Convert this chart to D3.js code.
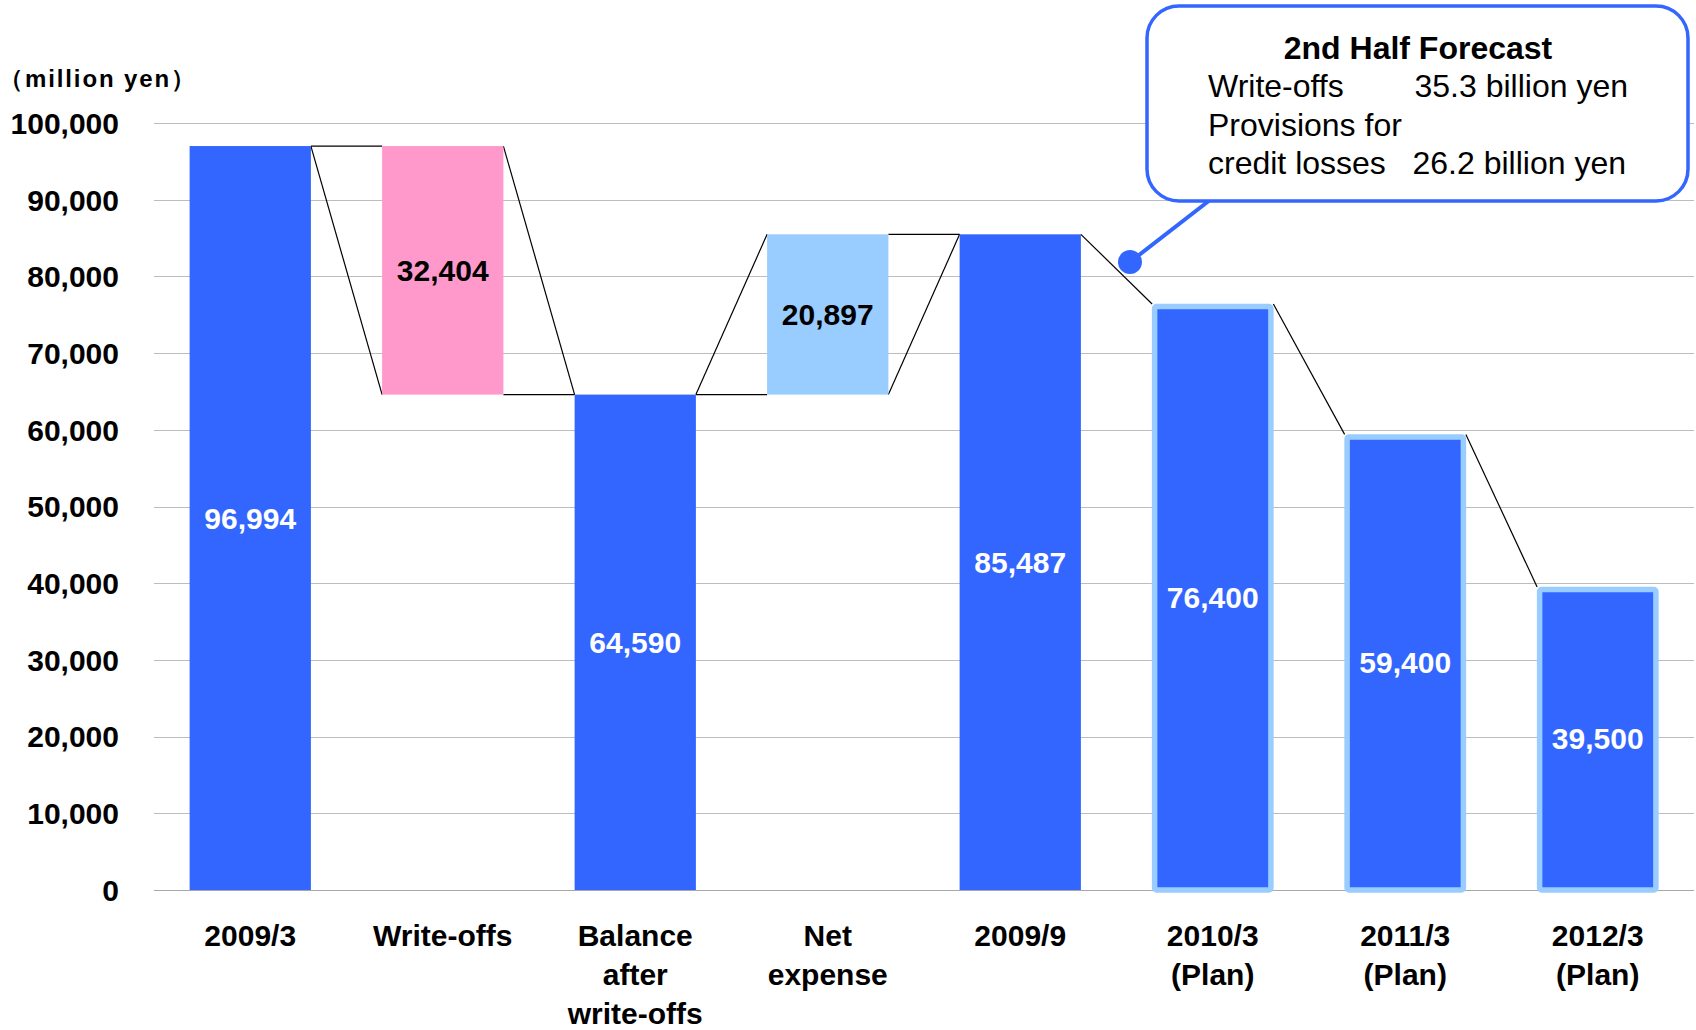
<!DOCTYPE html>
<html>
<head>
<meta charset="utf-8">
<script src="https://cdn.jsdelivr.net/npm/d3@7"></script>
<style>
  html, body { margin: 0; padding: 0; background: #ffffff; }
  svg { display: block; }
  text { font-family: "Liberation Sans", Arial, sans-serif; }
</style>
</head>
<body>
<svg id="chart" width="1696" height="1030"></svg>
<script>
// ---- data ----
const categories = [
  ["2009/3"], ["Write-offs"], ["Balance", "after", "write-offs"], ["Net", "expense"],
  ["2009/9"], ["2010/3", "(Plan)"], ["2011/3", "(Plan)"], ["2012/3", "(Plan)"]
];
const barValues = [96994, -32404, 64590, 20897, 85487, 76400, 59400, 39500];
const barKinds = ["total", "decrease", "total", "increase", "total", "plan", "plan", "plan"];
const barBases = [0, 96994, 0, 64590, 0, 0, 0, 0];
const yTicks = [0, 10000, 20000, 30000, 40000, 50000, 60000, 70000, 80000, 90000, 100000];
// connector lines between neighbouring bars: [left index, value at left edge, value at right edge]
const connectors = [
  [0, 96994, 96994], [0, 96994, 64590],
  [1, 96994, 64590], [1, 64590, 64590],
  [2, 64590, 64590], [2, 64590, 85487],
  [3, 85487, 85487], [3, 64590, 85487],
  [4, 85487, 76400],
  [5, 76400, 59400],
  [6, 59400, 39500]
];
const unitLabel = "（million yen）";
const calloutTitle = "2nd Half Forecast";
const calloutRows = [
  ["Write-offs", "35.3 billion yen"],
  ["Provisions for", ""],
  ["credit losses", "26.2 billion yen"]
];

// ---- styles ----
const colors = { total: "#3366ff", plan: "#3366ff", decrease: "#ff99cc", increase: "#99ccff" };
const labelColors = { total: "#ffffff", plan: "#ffffff", decrease: "#000000", increase: "#000000" };

const svg = d3.select("#chart");

const x = d3.scaleBand().domain(d3.range(categories.length))
  .range([154, 1694]).paddingInner(0.37).paddingOuter(0.185);
const y = d3.scaleLinear().domain([0, 100000]).range([890, 123]);
const fmt = d3.format(",");

// gridlines
svg.append("g").selectAll("line").data(yTicks).join("line")
  .attr("x1", 154).attr("x2", 1694)
  .attr("y1", d => Math.round(y(d)) + 0.5).attr("y2", d => Math.round(y(d)) + 0.5)
  .attr("stroke", d => d === 0 ? "#a8a8a8" : "#bdbdbd").attr("stroke-width", 1.2);

// y tick labels
svg.append("g").selectAll("text").data(yTicks).join("text")
  .attr("x", 119).attr("y", d => y(d)).attr("dy", "0.36em")
  .attr("text-anchor", "end").attr("font-size", 30).attr("font-weight", "bold")
  .attr("fill", "#000").text(d => fmt(d));

// unit label
svg.append("text").attr("x", -1).attr("y", 87)
  .attr("font-family", "'Noto Sans CJK JP', sans-serif")
  .attr("font-size", 24).attr("font-weight", 700).attr("letter-spacing", 1.9)
  .attr("fill", "#000").text(unitLabel);

// connectors
svg.append("g").selectAll("line").data(connectors).join("line")
  .attr("x1", d => x(d[0]) + x.bandwidth())
  .attr("x2", d => x(d[0] + 1))
  .attr("y1", d => y(d[1])).attr("y2", d => y(d[2]))
  .attr("stroke", "#000").attr("stroke-width", 1.2);

// bars
const bars = barValues.map((v, i) => {
  const lo = v < 0 ? barBases[i] + v : barBases[i];
  const hi = v < 0 ? barBases[i] : barBases[i] + v;
  return { i, v, lo, hi, kind: barKinds[i] };
});

svg.append("g").selectAll("rect").data(bars).join("rect")
  .attr("x", d => x(d.i) + (d.kind === "plan" ? 2.5 : 0))
  .attr("width", d => x.bandwidth() - (d.kind === "plan" ? 5 : 0))
  .attr("y", d => y(d.hi) + (d.kind === "plan" ? 2.5 : 0))
  .attr("height", d => y(d.lo) - y(d.hi) - (d.kind === "plan" ? 2.5 : 0))
  .attr("rx", d => d.kind === "plan" ? 2 : 0)
  .attr("fill", d => colors[d.kind])
  .attr("stroke", d => d.kind === "plan" ? "#99ccff" : "none")
  .attr("stroke-width", 5.5);

// value labels
svg.append("g").selectAll("text").data(bars).join("text")
  .attr("x", d => x(d.i) + x.bandwidth() / 2)
  .attr("y", d => (y(d.lo) + y(d.hi)) / 2).attr("dy", "0.36em")
  .attr("text-anchor", "middle").attr("font-size", 30).attr("font-weight", "bold")
  .attr("fill", d => labelColors[d.kind])
  .text(d => fmt(Math.abs(d.v)));

// category labels
const cat = svg.append("g").selectAll("text").data(categories).join("text")
  .attr("x", (d, i) => x(i) + x.bandwidth() / 2)
  .attr("y", 946)
  .attr("text-anchor", "middle").attr("font-size", 30).attr("font-weight", "bold")
  .attr("fill", "#000");
cat.selectAll("tspan").data(d => d).join("tspan")
  .attr("x", function () { return d3.select(this.parentNode).attr("x"); })
  .attr("dy", (d, j) => j === 0 ? 0 : 39)
  .text(d => d);

// callout
const co = svg.append("g");
co.append("line").attr("x1", 1130).attr("y1", 262).attr("x2", 1210).attr("y2", 200)
  .attr("stroke", "#3366ff").attr("stroke-width", 4);
co.append("circle").attr("cx", 1130).attr("cy", 262).attr("r", 12).attr("fill", "#3366ff");
co.append("rect").attr("x", 1147).attr("y", 6).attr("width", 541).attr("height", 195)
  .attr("rx", 32).attr("ry", 32).attr("fill", "#fff")
  .attr("stroke", "#3366ff").attr("stroke-width", 3.5);
co.append("text").attr("x", 1418).attr("y", 59).attr("text-anchor", "middle")
  .attr("font-size", 32).attr("font-weight", "bold").attr("fill", "#000").text(calloutTitle);
calloutRows.forEach((r, k) => {
  co.append("text").attr("x", 1208).attr("y", 97 + k * 38.5)
    .attr("font-size", 32).attr("fill", "#000").text(r[0]);
  if (r[1]) co.append("text").attr("x", 1628 - (k === 2 ? 2 : 0)).attr("y", 97 + k * 38.5)
    .attr("text-anchor", "end")
    .attr("font-size", 32).attr("fill", "#000").text(r[1]);
});
</script>
</body>
</html>
